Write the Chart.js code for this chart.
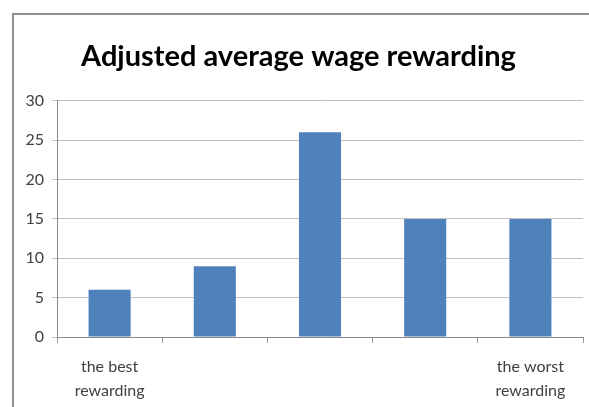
<!DOCTYPE html>
<html>
<head>
<meta charset="utf-8">
<script src="https://cdn.jsdelivr.net/npm/chart.js@4/dist/chart.umd.min.js"></script>
<style>
    body { margin: 0; background: #fff; }
    #frame {
        position: absolute;
        left: 12px;
        top: 13px;
        width: 577px;
        height: 394px;
        border-top: 2px solid #8e8e8e;
        border-left: 2px solid #8e8e8e;
    }
</style>
</head>
<body>
<div id="frame"><canvas id="wageChart" width="575" height="392"></canvas></div>
<script>
// Chart data
const categories = [['the best', 'rewarding'], '', '', '', ['the worst', 'rewarding']];
const wageValues = [6, 9, 26, 15, 15];
const yTicks = { min: 0, max: 30, step: 5 };

const ctx = document.getElementById('wageChart');

new Chart(ctx, {
    type: 'bar',
    data: {
        labels: categories,
        datasets: [{
            label: 'Adjusted average wage rewarding',
            data: wageValues,
            backgroundColor: '#4f81bd',
            barPercentage: 0.4,
            categoryPercentage: 1.0
        }]
    },
    options: {
        responsive: false,
        animation: false,
        layout: {
            padding: { left: 0, right: 6, top: 0, bottom: 0 }
        },
        scales: {
            y: {
                min: yTicks.min,
                max: yTicks.max,
                ticks: {
                    stepSize: yTicks.step,
                    color: '#404040',
                    padding: 8,
                    font: { family: 'Lato', size: 16 }
                },
                grid: {
                    color: '#c0c0c0',
                    tickLength: 5
                },
                border: { color: '#888888' },
                afterFit: function(scale) {
                    scale.width = 43;
                }
            },
            x: {
                ticks: {
                    color: '#404040',
                    padding: 12,
                    maxRotation: 0,
                    autoSkip: false,
                    font: { family: 'Lato', size: 16, lineHeight: 1.5 }
                },
                grid: {
                    drawOnChartArea: false,
                    color: '#999999',
                    tickLength: 6
                },
                border: { color: '#888888' },
                afterFit: function(scale) {
                    scale.height = 70;
                }
            }
        },
        plugins: {
            legend: { display: false },
            tooltip: { enabled: false },
            title: {
                display: true,
                text: 'Adjusted average wage rewarding',
                color: '#000000',
                font: { family: 'Lato', size: 29, weight: 'bold' },
                padding: { top: 24, bottom: 27 }
            }
        }
    }
});
</script>
</body>
</html>
